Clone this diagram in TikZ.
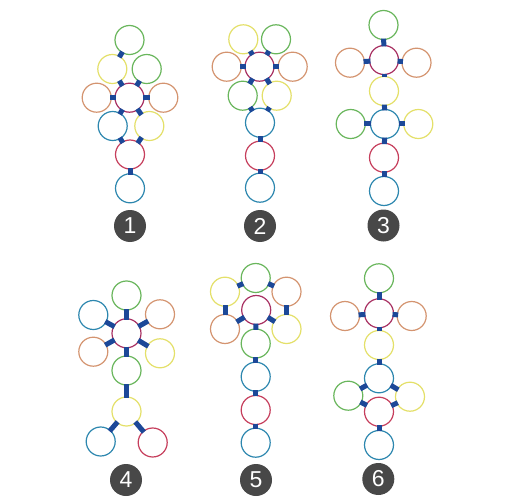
\documentclass[tikz,border=0pt]{standalone}
\usepackage{fontspec}
\setmainfont{Liberation Sans}
\definecolor{cgreen}{RGB}{105,182,92}
\definecolor{cyellow}{RGB}{228,224,105}
\definecolor{corange}{RGB}{212,148,112}
\definecolor{cmag}{RGB}{168,48,98}
\definecolor{cred}{RGB}{198,62,92}
\definecolor{cblue}{RGB}{45,135,175}
\definecolor{cconn}{RGB}{28,72,152}
\definecolor{clabel}{RGB}{72,72,72}
\tikzset{
  ring/.style={circle, draw=#1, minimum size=29pt, inner sep=0pt, line width=1.2pt},
  tag/.style={circle, fill=clabel, minimum size=32pt, inner sep=0pt, text=white, font=\fontsize{23}{23}\selectfont},
  link/.style={draw=cconn, line width=5pt, shorten <=-1.5pt, shorten >=-1.5pt}
}
\newcommand{\lnk}[2]{\draw[link] (#1) -- (#2);}
\begin{document}
\begin{tikzpicture}[x=1pt,y=-1pt]
\useasboundingbox[fill=white] (0,0) rectangle (512,503);
% ---------- Figure 1
\node[ring=cgreen]  (a1) at (129.5,40) {};
\node[ring=cyellow] (a2) at (112.3,69) {};
\node[ring=cgreen]  (a3) at (146.7,69) {};
\node[ring=corange] (a4) at (96.7,97.7) {};
\node[ring=cmag]    (a5) at (129.5,97.7) {};
\node[ring=corange] (a6) at (163.3,97.7) {};
\node[ring=cblue]   (a7) at (112.7,126) {};
\node[ring=cyellow] (a8) at (149.3,126) {};
\node[ring=cred]    (a9) at (130,154.5) {};
\node[ring=cblue]   (a10) at (130,188.3) {};
\node[tag] (t1) at (130,226) {1};
\lnk{a1}{a2}\lnk{a5}{a2}\lnk{a5}{a3}\lnk{a5}{a4}\lnk{a5}{a6}\lnk{a5}{a7}\lnk{a5}{a8}
\lnk{a9}{a7}\lnk{a9}{a8}\lnk{a9}{a10}
% ---------- Figure 2
\node[ring=cyellow] (b1) at (243.3,39.3) {};
\node[ring=cgreen]  (b2) at (276,39.3) {};
\node[ring=corange] (b3) at (226.7,66.7) {};
\node[ring=cmag]    (b4) at (259.5,66.7) {};
\node[ring=corange] (b5) at (292.7,66.7) {};
\node[ring=cgreen]  (b6) at (242.7,95.7) {};
\node[ring=cyellow] (b7) at (276.7,95.7) {};
\node[ring=cblue]   (b8) at (260,122.7) {};
\node[ring=cred]    (b9) at (260,155.7) {};
\node[ring=cblue]   (b10) at (260,187.7) {};
\node[tag] (t2) at (260,226) {2};
\lnk{b4}{b1}\lnk{b4}{b2}\lnk{b4}{b3}\lnk{b4}{b5}\lnk{b4}{b6}\lnk{b4}{b7}
\lnk{b8}{b6}\lnk{b8}{b7}\lnk{b8}{b9}\lnk{b9}{b10}
% ---------- Figure 3
\node[ring=cgreen]  (c1) at (383.5,25) {};
\node[ring=cmag]    (c2) at (384,60) {};
\node[ring=corange] (c3) at (350,62.7) {};
\node[ring=corange] (c4) at (416.5,62.7) {};
\node[ring=cyellow] (c5) at (384,91) {};
\node[ring=cblue]   (c6) at (385,124) {};
\node[ring=cgreen]  (c7) at (350.7,124) {};
\node[ring=cyellow] (c8) at (418.3,124) {};
\node[ring=cred]    (c9) at (384,157.7) {};
\node[ring=cblue]   (c10) at (384,191) {};
\node[tag] (t3) at (383.5,225.5) {3};
\lnk{c2}{c1}\lnk{c2}{c3}\lnk{c2}{c4}\lnk{c2}{c5}\lnk{c5}{c6}
\lnk{c6}{c7}\lnk{c6}{c8}\lnk{c6}{c9}\lnk{c9}{c10}
% ---------- Figure 4
\node[ring=cgreen]  (d1) at (126.5,295.5) {};
\node[ring=cblue]   (d2) at (93.3,315) {};
\node[ring=corange] (d3) at (160,314.3) {};
\node[ring=cmag]    (d4) at (126.5,333.3) {};
\node[ring=corange] (d5) at (93.3,351.7) {};
\node[ring=cyellow] (d6) at (160,353.3) {};
\node[ring=cgreen]  (d7) at (126.5,370.5) {};
\node[ring=cyellow] (d8) at (126.5,411.5) {};
\node[ring=cblue]   (d9) at (100.7,441.5) {};
\node[ring=cred]    (d10) at (152.7,442.5) {};
\node[tag] (t4) at (126,480) {4};
\lnk{d4}{d1}\lnk{d4}{d2}\lnk{d4}{d3}\lnk{d4}{d5}\lnk{d4}{d6}\lnk{d4}{d7}
\lnk{d7}{d8}\lnk{d8}{d9}\lnk{d8}{d10}
% ---------- Figure 5
\node[ring=cgreen]  (e1) at (255.7,278) {};
\node[ring=cyellow] (e2) at (225,291.7) {};
\node[ring=corange] (e3) at (286.5,291.7) {};
\node[ring=cmag]    (e4) at (256.2,310) {};
\node[ring=corange] (e5) at (225,329) {};
\node[ring=cyellow] (e6) at (286.5,329) {};
\node[ring=cgreen]  (e7) at (255.7,343.5) {};
\node[ring=cblue]   (e8) at (255.7,376.7) {};
\node[ring=cred]    (e9) at (255.7,410) {};
\node[ring=cblue]   (e10) at (255.7,442.7) {};
\node[tag] (t5) at (256,480) {5};
\lnk{e1}{e2}\lnk{e1}{e3}\lnk{e2}{e5}\lnk{e3}{e6}\lnk{e4}{e5}\lnk{e4}{e6}
\lnk{e4}{e7}\lnk{e7}{e8}\lnk{e8}{e9}\lnk{e9}{e10}
% ---------- Figure 6
\node[ring=cgreen]  (f1) at (379,278.3) {};
\node[ring=cmag]    (f2) at (379,313.3) {};
\node[ring=corange] (f3) at (345,316) {};
\node[ring=corange] (f4) at (411.7,316) {};
\node[ring=cyellow] (f5) at (379,345) {};
\node[ring=cblue]   (f6) at (379,378.3) {};
\node[ring=cgreen]  (f7) at (348.3,395.7) {};
\node[ring=cyellow] (f8) at (410,396.7) {};
\node[ring=cred]    (f9) at (379,411.7) {};
\node[ring=cblue]   (f10) at (379,445) {};
\node[tag] (t6) at (378.3,479) {6};
\lnk{f2}{f1}\lnk{f2}{f3}\lnk{f2}{f4}\lnk{f2}{f5}\lnk{f5}{f6}
\lnk{f6}{f7}\lnk{f6}{f8}\lnk{f9}{f7}\lnk{f9}{f8}\lnk{f9}{f10}
\end{tikzpicture}
\end{document}
